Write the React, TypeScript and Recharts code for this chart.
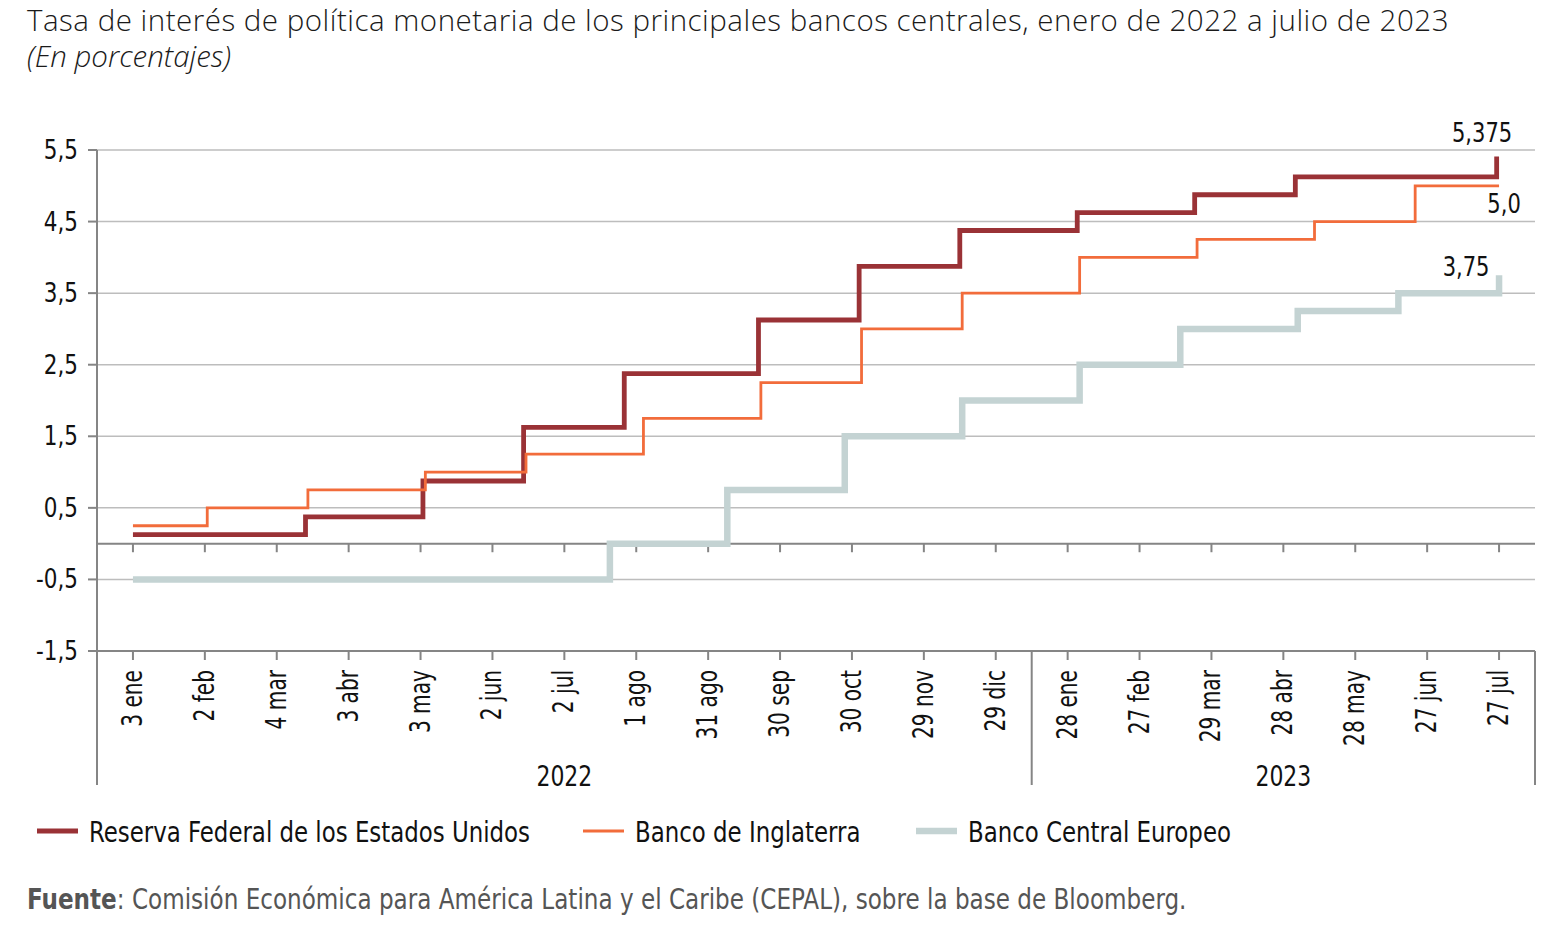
import type { ReactNode } from 'react';
import { LineChart, Line, XAxis, YAxis, CartesianGrid, ReferenceLine } from 'recharts';

// Policy rates, % — [effective date, new rate]
const fedSteps: [string, number][] = [
  ['2022-01-03', 0.125],
  ['2022-03-16', 0.375],
  ['2022-05-04', 0.875],
  ['2022-06-15', 1.625],
  ['2022-07-27', 2.375],
  ['2022-09-21', 3.125],
  ['2022-11-02', 3.875],
  ['2022-12-14', 4.375],
  ['2023-02-01', 4.625],
  ['2023-03-22', 4.875],
  ['2023-05-03', 5.125],
  ['2023-07-26', 5.375],
  ['2023-07-27', 5.375],
];

const boeSteps: [string, number][] = [
  ['2022-01-03', 0.25],
  ['2022-02-03', 0.5],
  ['2022-03-17', 0.75],
  ['2022-05-05', 1.0],
  ['2022-06-16', 1.25],
  ['2022-08-04', 1.75],
  ['2022-09-22', 2.25],
  ['2022-11-03', 3.0],
  ['2022-12-15', 3.5],
  ['2023-02-02', 4.0],
  ['2023-03-23', 4.25],
  ['2023-05-11', 4.5],
  ['2023-06-22', 5.0],
  ['2023-07-27', 5.0],
];

const ecbSteps: [string, number][] = [
  ['2022-01-03', -0.5],
  ['2022-07-21', 0.0],
  ['2022-09-08', 0.75],
  ['2022-10-27', 1.5],
  ['2022-12-15', 2.0],
  ['2023-02-02', 2.5],
  ['2023-03-16', 3.0],
  ['2023-05-04', 3.25],
  ['2023-06-15', 3.5],
  ['2023-07-27', 3.75],
];

// x axis: one tick every 30 days starting 3 ene 2022
const tickLabels = [
  '3 ene', '2 feb', '4 mar', '3 abr', '3 may', '2 jun', '2 jul', '1 ago', '31 ago', '30 sep',
  '30 oct', '29 nov', '29 dic', '28 ene', '27 feb', '29 mar', '28 abr', '28 may', '27 jun', '27 jul',
];
const tickDays = tickLabels.map((_, i) => i * 30);

// second tier: year bands, edges halfway between ticks
const yearLabels = ['2022', '2023'];
const yearEdges = [-15, 375, 585];

const yTicks = [-1.5, -0.5, 0.5, 1.5, 2.5, 3.5, 4.5, 5.5];

const START = Date.parse('2022-01-03');
const dayOf = (iso: string) => Math.round((Date.parse(iso) - START) / 86400000);
const toPoints = (steps: [string, number][]) => steps.map(([d, rate]) => ({ day: dayOf(d), rate }));

const fmt = (v: number) =>
  (Number.isInteger(v) ? v.toFixed(1) : String(v)).replace('.', ',');

// no narrow font available, so condensed text is squeezed horizontally
const FONT = "'DejaVu Sans Condensed', 'DejaVu Sans', sans-serif";
const TITLE_FONT = "'Open Sans', 'Noto Sans', sans-serif";
const AXIS = '#858585';
const INK = '#111';

const series = [
  { name: 'Reserva Federal de los Estados Unidos', data: toPoints(fedSteps), color: '#9a3236', width: 4.8, dx: -17, dy: -17, legendX: 37 },
  { name: 'Banco de Inglaterra', data: toPoints(boeSteps), color: '#f26c3b', width: 2.8, dx: 5, dy: 27, legendX: 583 },
  { name: 'Banco Central Europeo', data: toPoints(ecbSteps), color: '#c4d3d3', width: 6.5, dx: -33, dy: 1, legendX: 916 },
];

const yearTicks = [
  ...yearEdges,
  ...yearLabels.map((_, i) => (yearEdges[i] + yearEdges[i + 1]) / 2),
];

type NarrowProps = {
  x: number;
  y: number;
  sx: number;
  size: number;
  rotate?: number;
  anchor?: 'start' | 'middle' | 'end';
  dy?: number;
  fill?: string;
  children: ReactNode;
};

function Narrow({ x, y, sx, size, rotate = 0, anchor = 'start', dy = 0, fill = INK, children }: NarrowProps) {
  return (
    <text
      transform={`translate(${x} ${y}) rotate(${rotate}) scale(${sx} 1)`}
      textAnchor={anchor}
      dy={dy}
      fontSize={size}
      fontFamily={FONT}
      fill={fill}
    >
      {children}
    </text>
  );
}

function DateTick(props: any) {
  const { x, y, payload } = props;
  const label = tickLabels[tickDays.indexOf(payload.value)];
  return (
    <Narrow x={x} y={y + 2} sx={0.8} size={28} rotate={-90} anchor="end" dy={9}>
      {label}
    </Narrow>
  );
}

function YearTick(props: any) {
  const { x, y, payload } = props;
  const edge = yearEdges.indexOf(payload.value);
  if (edge >= 0) {
    return <line x1={x} x2={x} y1={y - 100} y2={y + 34} stroke={AXIS} strokeWidth={2} />;
  }
  const idx = yearLabels.findIndex((_, i) => (yearEdges[i] + yearEdges[i + 1]) / 2 === payload.value);
  return (
    <Narrow x={x} y={y + 35} sx={0.87} size={28} anchor="middle">
      {yearLabels[idx]}
    </Narrow>
  );
}

function ValueTick(props: any) {
  const { x, y, payload } = props;
  return (
    <Narrow x={x} y={y} sx={0.92} size={26} anchor="end" dy={9}>
      {fmt(payload.value)}
    </Narrow>
  );
}

const endLabel = (s: (typeof series)[number]) => (props: any) => {
  if (props.index !== s.data.length - 1) return <g />;
  return (
    <Narrow x={props.x + s.dx} y={props.y + s.dy} sx={0.9} size={26} anchor="middle">
      {fmt(props.value)}
    </Narrow>
  );
};

export default function App() {
  return (
    <div style={{ position: 'absolute', left: 0, top: 0, width: 1563, height: 942, background: '#fff' }}>
      <svg width={1563} height={942} style={{ position: 'absolute', left: 0, top: 0 }}>
        {/* title and unit line share one text block */}
        <text x={27} y={31} fontSize={29.5} fontWeight={300} fontFamily={TITLE_FONT} fill="#1a1a1a">
          <tspan letterSpacing={0.5}>
            Tasa de interés de política monetaria de los principales bancos centrales, enero de 2022 a julio de 2023
          </tspan>
          <tspan x={27} dy={36} fontStyle="italic">
            (En porcentajes)
          </tspan>
        </text>
        {series.map((s) => (
          <g key={s.name}>
            <line x1={s.legendX} x2={s.legendX + 41} y1={831} y2={831} stroke={s.color} strokeWidth={s.width} />
            <Narrow x={s.legendX + 52} y={842} sx={0.877} size={29}>
              {s.name}
            </Narrow>
          </g>
        ))}
        <Narrow x={27} y={909} sx={0.886} size={29} fill="#555">
          <tspan fontWeight="bold">Fuente</tspan>
          <tspan>:  Comisión Económica para América Latina y el Caribe (CEPAL), sobre la base de Bloomberg.</tspan>
        </Narrow>
      </svg>
      <div style={{ position: 'absolute', left: 0, top: 0 }}>
        <LineChart width={1563} height={800} margin={{ top: 150, right: 28, bottom: 15, left: 0 }}>
          <CartesianGrid vertical={false} stroke="#bdbdbd" strokeWidth={1.5} />
          <XAxis
            dataKey="day"
            type="number"
            domain={[-15, 585]}
            ticks={tickDays}
            interval={0}
            allowDataOverflow
            height={100}
            tickSize={9}
            tickMargin={8}
            axisLine={{ stroke: AXIS, strokeWidth: 2 }}
            tickLine={{ stroke: AXIS, strokeWidth: 2 }}
            tick={<DateTick />}
          />
          <XAxis
            xAxisId="year"
            dataKey="day"
            type="number"
            domain={[-15, 585]}
            ticks={yearTicks}
            interval={0}
            allowDataOverflow
            height={34}
            tickSize={0}
            tickMargin={0}
            axisLine={false}
            tickLine={false}
            tick={<YearTick />}
          />
          <YAxis
            type="number"
            domain={[-1.5, 5.5]}
            ticks={yTicks}
            interval={0}
            width={97}
            tickSize={9}
            tickMargin={10}
            axisLine={{ stroke: AXIS, strokeWidth: 2 }}
            tickLine={{ stroke: AXIS, strokeWidth: 2 }}
            tick={<ValueTick />}
          />
          <ReferenceLine y={0} stroke={AXIS} strokeWidth={2} />
          {tickDays.map((d) => (
            <ReferenceLine
              key={d}
              segment={[{ x: d, y: 0 }, { x: d, y: -0.12 }]}
              stroke={AXIS}
              strokeWidth={2}
            />
          ))}
          {series.map((s) => (
            <Line
              key={s.name}
              data={s.data}
              dataKey="rate"
              name={s.name}
              type="stepAfter"
              stroke={s.color}
              strokeWidth={s.width}
              dot={false}
              activeDot={false}
              isAnimationActive={false}
              label={endLabel(s)}
            />
          ))}
        </LineChart>
      </div>
    </div>
  );
}
